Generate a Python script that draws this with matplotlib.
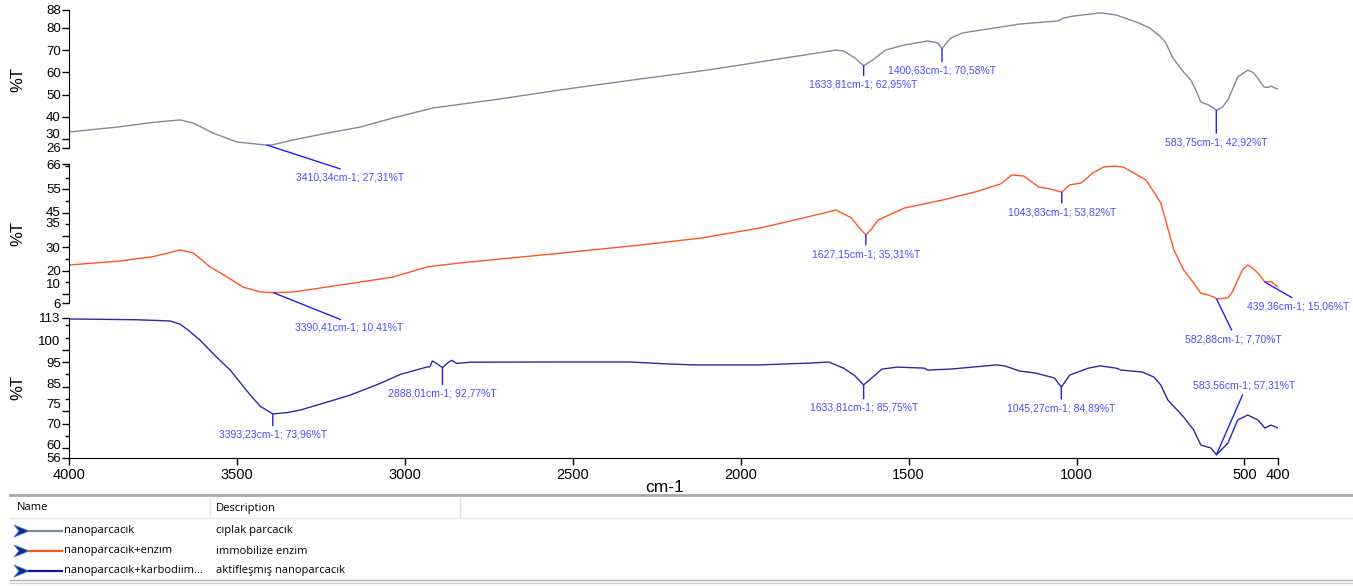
import matplotlib
matplotlib.use('Agg')
import matplotlib.pyplot as plt
from matplotlib.ticker import FixedLocator, MultipleLocator
from matplotlib.patches import Polygon
from matplotlib.transforms import ScaledTranslation

# --- spectra: wavenumber (cm-1) and %T ---
wn_bare = [4000, 3850, 3750, 3669, 3630, 3571, 3500, 3431, 3410, 3392,
           3333, 3231, 3133, 3035, 2915, 2737, 2537, 2300, 2100, 2000,
           1900, 1822, 1716, 1694, 1659, 1634, 1607, 1569, 1512, 1443,
           1413, 1401, 1375, 1339, 1250, 1169, 1054, 1038, 1008, 928,
           883, 815, 782, 749, 734, 713, 681, 660, 645, 630,
           606, 583, 565, 549, 520, 490, 475, 460, 442, 430,
           421, 410, 400]
t_bare = [33.2, 35.5, 37.5, 38.6, 37.2, 32.7, 28.7, 27.6, 27.31, 27.5,
          29.6, 32.7, 35.4, 39.5, 44, 47.6, 52.1, 57, 61, 63.3,
          65.7, 67.5, 70, 69.6, 66.4, 62.95, 65.5, 70, 72.3, 74.1,
          73.2, 70.58, 75.4, 77.7, 79.8, 81.7, 83.1, 84.4, 85.3, 86.7,
          85.8, 82.2, 79.9, 75.9, 73.2, 66.4, 60.1, 56.6, 52.1, 46.7,
          45.3, 42.92, 44.5, 47.6, 57.9, 61, 60, 57.4, 53.4, 53.2,
          53.8, 53, 52.5]

wn_enz = [4000, 3850, 3750, 3669, 3630, 3580, 3529, 3482, 3431, 3390,
          3330, 3231, 3035, 2933, 2835, 2537, 2300, 2120, 1941, 1820,
          1716, 1670, 1650, 1627, 1610, 1591, 1512, 1397, 1300, 1226,
          1192, 1157, 1113, 1077, 1044, 1020, 986, 952, 919, 889,
          861, 793, 749, 710, 681, 651, 630, 609, 591, 583,
          549, 535, 520, 505, 490, 475, 460, 439, 421, 400]
t_enz = [22.4, 24.1, 26, 28.9, 27.6, 21.6, 17.2, 12.9, 10.8, 10.41,
         10.8, 12.9, 17.2, 21.6, 23.3, 27.5, 31, 34, 38.4, 42.5,
         46.1, 42.7, 39, 35.31, 38, 41.8, 47, 50.5, 54, 57.4,
         61.3, 60.8, 56.1, 55.2, 53.82, 57, 57.8, 62.1, 64.7, 65.1,
         64.7, 59.1, 49.2, 28.9, 20.3, 14.6, 10.3, 9.5, 8.6, 7.70,
         8.2, 11, 16, 20.5, 22.4, 21, 19, 15.06, 15.3, 13]

wn_act = [4000, 3800, 3700, 3669, 3640, 3610, 3560, 3520, 3460, 3430,
          3393, 3350, 3312, 3250, 3163, 3080, 3014, 2954, 2935, 2925,
          2918, 2905, 2888, 2870, 2860, 2845, 2805, 2537, 2331, 2218,
          2138, 1944, 1784, 1738, 1694, 1660, 1634, 1579, 1534, 1454,
          1443, 1375, 1238, 1214, 1169, 1123, 1066, 1045, 1020, 964,
          929, 883, 867, 804, 770, 749, 728, 681, 651, 630,
          600, 583, 549, 520, 490, 460, 439, 421, 400]
t_act = [112.6, 112.3, 111.8, 110.5, 107.5, 104, 97, 91.8, 81.6, 77,
         73.96, 74.5, 75.5, 78, 81.6, 86, 90, 92.3, 93, 93.2,
         95.5, 94.5, 92.77, 95, 95.8, 94.5, 95, 95.1, 95.1, 94.3,
         93.9, 93.9, 94.7, 95.1, 92.6, 89.5, 85.75, 92.2, 93, 92.6,
         91.8, 92.2, 93.9, 93.5, 91.4, 90.6, 88.6, 84.89, 89.8, 92.6,
         93.5, 92.6, 91.8, 91, 89, 85.7, 79.6, 72.7, 67.4, 61.3,
         60.1, 57.31, 62.1, 71.5, 73.5, 71.5, 68.2, 69.4, 68.2]

# labelled peaks (wavenumber, %T)
peaks_bare = [(3410.34, 27.31), (1633.81, 62.95), (1400.63, 70.58), (583.75, 42.92)]
peaks_enz = [(3390.41, 10.41), (1627.15, 35.31), (1043.83, 53.82), (582.88, 7.70), (439.36, 15.06)]
peaks_act = [(3393.23, 73.96), (2888.01, 92.77), (1633.81, 85.75), (1045.27, 84.89), (583.56, 57.31)]

# y ticks as printed on each panel
yticks_bare = [88, 80, 70, 60, 50, 40, 30, 26]
yticks_enz = [66, 55, 45, 35, 30, 20, 10, 6]
yticks_act = [113, 100, 95, 85, 75, 70, 60, 56]
xticks = [4000, 3500, 3000, 2500, 2000, 1500, 1000, 500, 400]

names = ['nanoparcacık', 'nanoparcacık+enzım', 'nanoparcacık+karbodiim...']
descriptions = ['cıplak parcacık', 'immobilize enzim', 'aktifleşmış nanoparcacık']
colors = ['#7f8b9b', '#ff5522', '#2a2aa6']

W, H = 1353, 586
fig = plt.figure(figsize=(W / 100, H / 100), dpi=100)
tick_font = ['Liberation Sans Narrow', 'Liberation Sans', 'DejaVu Sans']
ann_color = '#4c4cff'

# panel extents in pixels (top, bottom)
panels = [(10, 148), (164, 303), (318, 458)]
left_px, right_px = 69, 1278
series = [(wn_bare, t_bare, peaks_bare, yticks_bare, (26, 88)),
          (wn_enz, t_enz, peaks_enz, yticks_enz, (6, 66)),
          (wn_act, t_act, peaks_act, yticks_act, (56, 113))]
# offsets (pixels) of each label relative to its peak
offsets = [[(83, -27), (0, -14), (0, -17), (0, -27)],
           [(75, -30), (0, -14), (0, -15), (17, -35), (33, -19)],
           [(0, -16), (0, -21), (0, -18), (0, -16), (28, 64)]]
# small upward nudges (pixels) of crowded y tick labels, as in the original
label_nudge = [[0, 0, 0, 0, 0, 0, 6, 0],
               [0, 1, 1, 13, 0, 0, 10, 0],
               [0, 9, 0, 3, 8, 0, 4, 0]]

axes = []
for i, ((top, bot), (wn, t, peaks, yt, ylim)) in enumerate(zip(panels, series)):
    ax = fig.add_axes([left_px / W, 1 - bot / H, (right_px - left_px) / W, (bot - top) / H])
    ax.set_facecolor('none')
    ax.plot(wn, t, color=colors[i], lw=1.0)
    ax.set_xlim(4000, 400)
    ax.set_ylim(*ylim)
    ax.yaxis.set_major_locator(FixedLocator(yt))
    if i > 0:
        ax.yaxis.set_minor_locator(MultipleLocator(5))
    ax.tick_params(axis='y', which='major', direction='out', length=5, width=1, pad=1, labelsize=9.5)
    ax.tick_params(axis='y', which='minor', direction='out', length=3, width=1)
    for tick, nud in zip(ax.yaxis.get_major_ticks(), label_nudge[i]):
        tick.label1.set_family(tick_font)
        if nud:
            tick.label1.set_transform(tick.label1.get_transform()
                                      + ScaledTranslation(0, nud / 100, fig.dpi_scale_trans))
    for s in ['top', 'right']:
        ax.spines[s].set_visible(False)
    if i < 2:
        ax.spines['bottom'].set_visible(False)
        ax.set_xticks([])
    ax.set_ylabel('%T', fontsize=12, family=tick_font)
    ax.yaxis.set_label_coords(-0.036, 0.5)

    for (pw, pt), (dx, dy) in zip(peaks, offsets[i]):
        label = f'{pw:.2f}cm-1; {pt:.2f}%T'.replace('.', ',')
        va = 'top' if dy < 0 else 'bottom'
        ax.annotate(label, xy=(pw, pt), xytext=(dx, dy), textcoords='offset pixels',
                    ha='center', va=va, fontsize=7.5, color=ann_color, family=tick_font,
                    annotation_clip=False,
                    arrowprops=dict(arrowstyle='-', color='#1f1fff', lw=1,
                                    shrinkA=1, shrinkB=0,
                                    relpos=(0.5, 1.0 if dy < 0 else 0.0)))
    axes.append(ax)

ax_b = axes[-1]
ax_b.set_xticks(xticks)
ax_b.set_xticklabels([str(x) for x in xticks], family=tick_font)
ax_b.tick_params(axis='x', direction='out', length=5, width=1, pad=2, labelsize=10.5)
fig.text(665 / W, 1 - 487 / H, 'cm-1', ha='center', va='center', fontsize=12.5, family=tick_font)

# --- legend table below the plot, drawn in pixel coordinates ---
lg = fig.add_axes([0, 0, 1, 1 - 490 / H])
lg.set_facecolor('none')
lg.set_xlim(0, W)
lg.set_ylim(586, 490)
lg.axis('off')
lg.plot([10, W], [494.5, 494.5], color='#a8a8a8', lw=2)
lg.plot([10, W], [518, 518], color='#ececec', lw=1)
lg.plot([210, 210], [497, 518], color='#e4e4e4', lw=1)
lg.plot([460, 460], [497, 518], color='#e4e4e4', lw=1)
lg.plot([10, W], [580, 580], color='#b0b0b0', lw=1)
lg.plot([10, W], [583, 583], color='#d0d0d0', lw=1)
ui_font = ['Open Sans', 'DejaVu Sans']
lg.text(17, 508, 'Name', fontsize=8, va='center', family=ui_font)
lg.text(216, 508, 'Description', fontsize=8, va='center', family=ui_font)
for k, (nm, desc, c) in enumerate(zip(names, descriptions, colors)):
    y = 531 + 20 * k
    lg.add_patch(Polygon([(14, y - 6), (29, y), (14, y + 6), (19, y)], closed=True,
                         facecolor='#102a8c', edgecolor='#4a78d8', lw=0.6))
    lg.plot([29, 62], [y, y], color=c if k != 2 else '#12129a', lw=1.6)
    lg.text(64, y, nm, fontsize=8, va='center', family=ui_font)
    lg.text(216, y, desc, fontsize=8, va='center', family=ui_font)

fig.savefig('out.png', dpi=100)
